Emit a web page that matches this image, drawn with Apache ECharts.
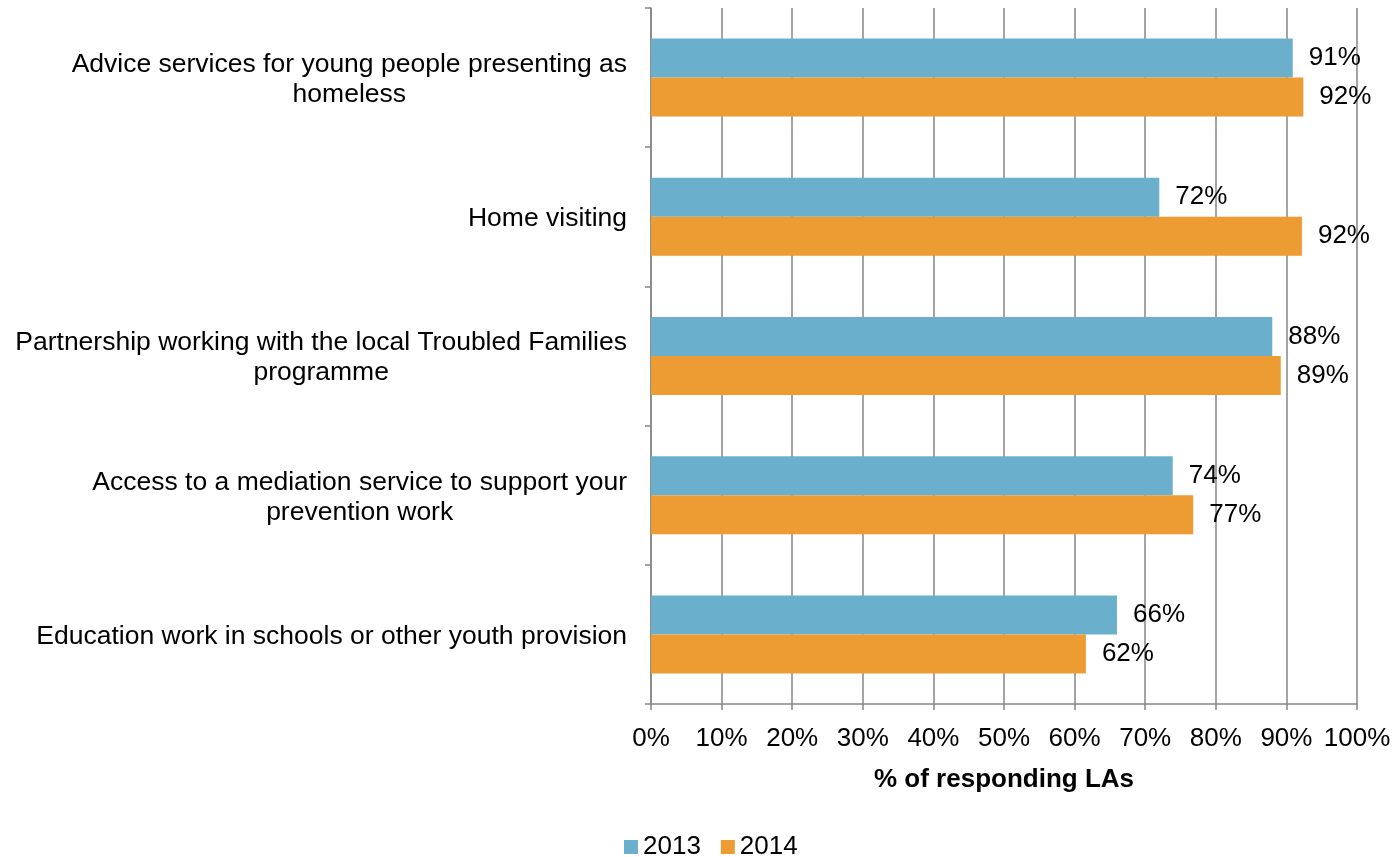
<!DOCTYPE html>
<html><head><meta charset="utf-8">
<script src="https://cdn.jsdelivr.net/npm/echarts@6/dist/echarts.min.js"></script>
<style>html,body{margin:0;padding:0;background:#fff}#c{width:1394px;height:857px}</style>
</head><body><div id="c"></div>
<script>
const categories = [
  "Advice services for young people presenting as\nhomeless",
  "Home visiting",
  "Partnership working with the local Troubled Families\nprogramme",
  "Access to a mediation service to support your\nprevention work",
  "Education work in schools or other youth provision"
];
const values2013 = [90.9, 72.0, 88.0, 73.9, 66.0];
const values2014 = [92.4, 92.2, 89.2, 76.8, 61.6];
const seriesNames = ["2013", "2014"];
const xTicks = [0,10,20,30,40,50,60,70,80,90,100];
const axisTitle = "% of responding LAs";

const FONT = "Liberation Sans, Arial, sans-serif";
const chart = echarts.init(document.getElementById('c'), null, {renderer:'canvas'});
const lbl = {show:true, position:'right', distance:16, color:'#000', fontSize:26, fontFamily:FONT,
  formatter: p => Math.round(p.value) + '%'};
chart.setOption({
  animation:false,
  textStyle:{fontFamily:FONT},
  grid:{left:651, right:37, top:8, bottom:153, containLabel:false},
  legend:{top:834, left:624, padding:0, itemWidth:14, itemHeight:14, itemGap:20,
    textStyle:{fontSize:26, color:'#000', fontFamily:FONT},
    icon:'rect', data:seriesNames},
  xAxis:{type:'value', min:0, max:100, interval:10,
    axisLine:{show:true, lineStyle:{color:'#868686', width:1.5}},
    axisTick:{show:true, length:6, lineStyle:{color:'#868686', width:1.5}},
    splitLine:{show:true, lineStyle:{color:'#868686', width:1.5}},
    axisLabel:{fontSize:26, color:'#000', margin:22, fontFamily:FONT,
      formatter: v => xTicks.indexOf(v) >= 0 ? v + '%' : ''},
    name:axisTitle, nameLocation:'middle', nameGap:63,
    nameTextStyle:{fontSize:26, fontWeight:'bold', color:'#000', fontFamily:FONT}},
  yAxis:{type:'category', inverse:true, data:categories,
    axisLine:{show:true, lineStyle:{color:'#868686', width:1.5}},
    axisTick:{show:true, length:6, lineStyle:{color:'#868686', width:1.5}},
    axisLabel:{margin:24, align:'right', lineHeight:30, padding:[4,0,0,0],
      formatter: v => v.split('\n').map(l => '{c|' + l + '}').join('\n'),
      rich:{c:{align:'center', fontSize:26.5, color:'#000', fontFamily:FONT, lineHeight:30}}}},
  series:[
    {name:seriesNames[0], type:'bar', data:values2013, barWidth:39, barGap:'0%',
      itemStyle:{color:'#6AB0CD'}, label:lbl},
    {name:seriesNames[1], type:'bar', data:values2014, barWidth:39, barGap:'0%',
      itemStyle:{color:'#ED9B33'}, label:lbl}
  ]
});
</script></body></html>
